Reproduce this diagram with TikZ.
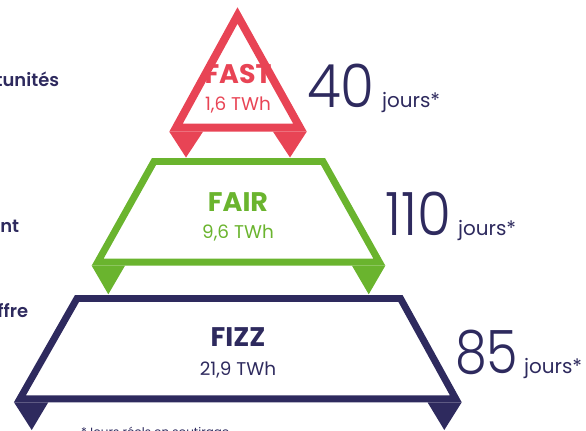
\documentclass[tikz,border=0pt]{standalone}
\usepackage{fontspec}
\setmainfont{Poppins}
\newfontfamily\thinfont{Poppins Light}
\newfontfamily\midfont{Poppins SemiBold}
\definecolor{fastred}{RGB}{232,68,85}
\definecolor{fairgreen}{RGB}{106,180,46}
\definecolor{fizznavy}{RGB}{46,42,94}

\begin{document}
\begin{tikzpicture}[x=1bp,y=-1bp,
    tier/.style={line width=#1, line join=miter, miter limit=10},
    tiername/.style={anchor=base, font=\bfseries\fontsize{27}{27}\selectfont},
    tiertwh/.style={anchor=base, font=\fontsize{18.5}{18.5}\selectfont},
    days/.style={anchor=base west, text=fizznavy, inner sep=0pt, font=\thinfont\fontsize{60}{60}\selectfont},
    dayunit/.style={anchor=base west, text=fizznavy, inner sep=0pt, font=\fontsize{20}{20}\selectfont},
    sidetext/.style={anchor=base east, text=fizznavy, inner sep=0pt, font=\midfont\fontsize{18}{18}\selectfont}]
      \useasboundingbox (0,0) rectangle (586,430);

      % left-hand labels, cut by the page edge
      \node[sidetext] (opp) at (59.3,86) {tunités};
      \node[sidetext] (ment) at (19.3,232) {ent};
      \node[sidetext] (offre) at (28.3,317) {ffre};

      % FAST
      \draw[tier=8, draw=fastred] (237.5,15.5) -- (300,127.7) -- (176,127.7) -- cycle;
      \fill[fastred] (169.3,131.7) -- (203,131.7) -- (186,157.5) -- cycle;
      \fill[fastred] (273,131.7) -- (306.7,131.7) -- (290,157.5) -- cycle;
      \node[tiername, text=fastred] (fast) at (238,83.3) {FAST};
      \node[tiertwh, text=fastred] (fastwh) at (238,110) {1,6 TWh};

      % FAIR
      \draw[tier=7, draw=fairgreen] (154,161.5) -- (323,161.5) -- (379.4,262.2) -- (97.6,262.2) -- cycle;
      \fill[fairgreen] (91.7,265.7) -- (125,265.7) -- (108.3,294.3) -- cycle;
      \fill[fairgreen] (352,265.7) -- (385.3,265.7) -- (368.7,294.3) -- cycle;
      \node[tiername, text=fairgreen] (fair) at (238,211.7) {FAIR};
      \node[tiertwh, text=fairgreen] (fairwh) at (238,238) {9,6 TWh};

      % FIZZ
      \draw[tier=7, draw=fizznavy] (77,298.5) -- (400.5,298.5) -- (455.8,398.8) -- (19.9,398.8) -- cycle;
      \fill[fizznavy] (14,402.3) -- (48.3,402.3) -- (31.7,430) -- cycle;
      \fill[fizznavy] (427.5,402.3) -- (461.7,402.3) -- (444.3,430) -- cycle;
      \node[tiername, text=fizznavy] (fizz) at (238,346.7) {FIZZ};
      \node[tiertwh, text=fizznavy] (fizzwh) at (238,375) {21,9 TWh};

      % durations
      \node[days] (d40) at (307,107.5) {\scalebox{0.92}[1]{40}};
      \node[dayunit] (u40) at (382,107.5) {jours*};
      \node[days] (d110) at (385,235) {\scalebox{0.92}[1]{110}};
      \node[dayunit] (u110) at (458,235) {jours*};
      \node[days] (d85) at (455,373) {\scalebox{0.85}[1]{85}};
      \node[dayunit] (u85) at (524,373) {jours*};

      \node[anchor=base west, text=fizznavy, inner sep=0pt, font=\fontsize{12}{12}\selectfont] (note) at (81,436) {*Jours réels en soutirage};
\end{tikzpicture}
\end{document}
